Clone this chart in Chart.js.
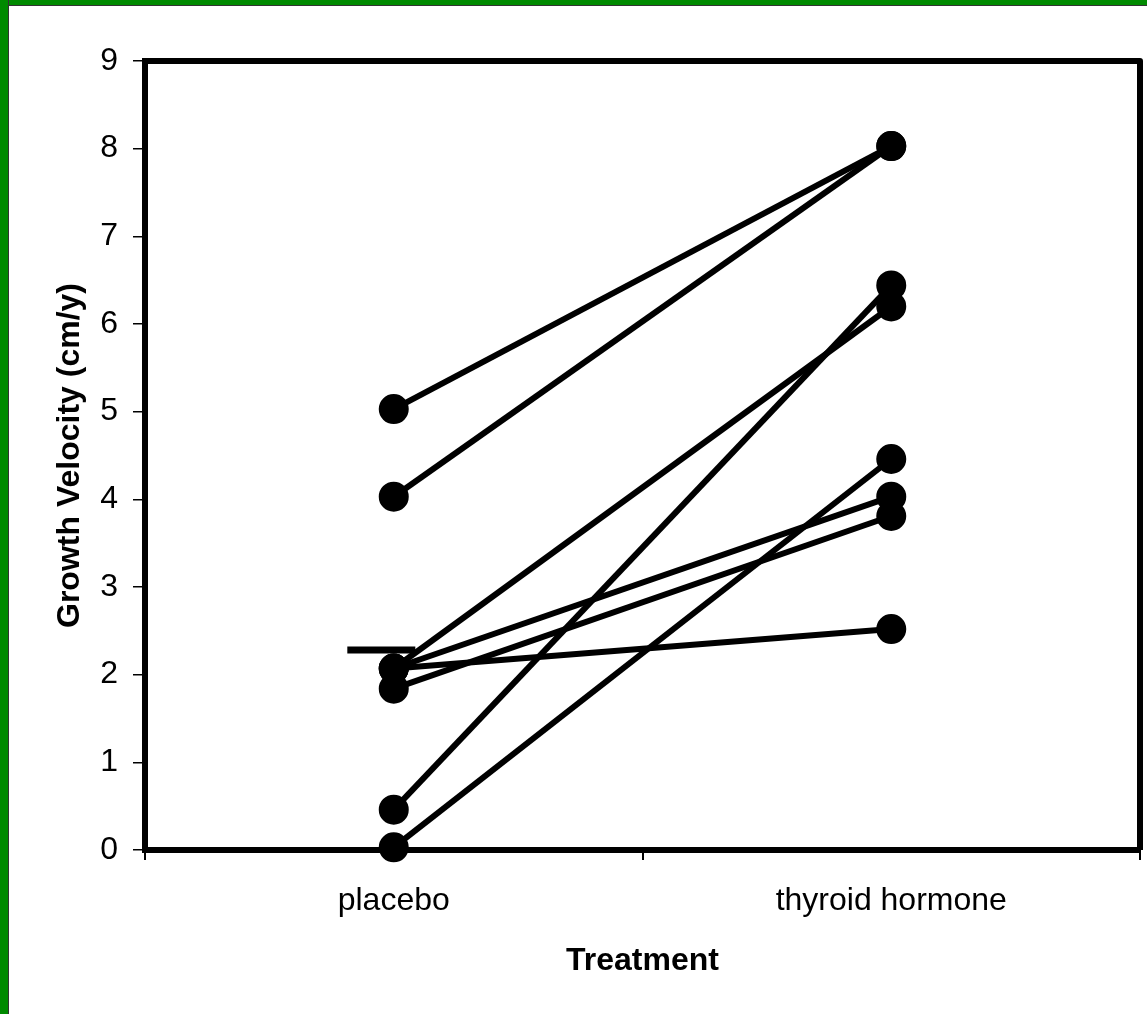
<!DOCTYPE html>
<html><head><meta charset="utf-8">
<script src="https://cdn.jsdelivr.net/npm/chart.js@4/dist/chart.umd.min.js"></script>
<style>
html,body{margin:0;padding:0;background:#fff;}
#wrap{position:absolute;left:0;top:0;width:1147px;height:1014px;overflow:hidden;background:#fff;}
#frameL{position:absolute;left:0;top:0;width:8px;height:1014px;background:#008a00;border-right:1px solid #333;}
#frameT{position:absolute;left:0;top:0;width:1147px;height:5px;background:#008a00;border-bottom:1px solid #333;}
canvas{position:absolute;left:0;top:0;}
</style></head><body>
<div id="wrap"><canvas id="c" width="1147" height="1014"></canvas><div id="frameT"></div><div id="frameL"></div></div>
<script>
const categories = ['placebo', 'thyroid hormone'];
const placeboValues = [5.03, 4.03, 2.07, 2.07, 2.07, 1.84, 0.46, 0.03];
const thyroidValues = [8.03, 8.03, 6.20, 4.03, 2.52, 3.81, 6.44, 4.46];
const placeboMean = [2.28];
const meanPosition = [0.475];
const yMin = 0, yMax = 9, yStep = 1;

const FONT = "'Liberation Sans', Arial, Helvetica, sans-serif";

const subjectSets = placeboValues.map((p, i) => ({
  type: 'line',
  data: [p, thyroidValues[i]],
  borderColor: '#000',
  backgroundColor: '#000',
  borderWidth: 6,
  pointRadius: 14,
  pointBorderWidth: 2,
  pointBackgroundColor: '#000',
  pointBorderColor: '#000',
  pointHoverRadius: 14,
  fill: false,
  tension: 0,
  clip: false,
  xAxisID: 'x',
  yAxisID: 'y'
}));

const meanSet = {
  type: 'scatter',
  data: placeboMean.map((v, i) => ({x: meanPosition[i], y: v})),
  pointStyle: 'line',
  pointRadius: 34,
  pointHoverRadius: 34,
  borderColor: '#000',
  backgroundColor: '#000',
  pointBorderWidth: 7,
  borderWidth: 7,
  showLine: false,
  clip: false,
  xAxisID: 'x2',
  yAxisID: 'y'
};

const framePlugin = {
  id: 'frame',
  beforeDatasetsDraw(chart) {
    const {ctx, chartArea: a} = chart;
    ctx.save();
    ctx.strokeStyle = '#000';
    ctx.lineWidth = 6;
    ctx.lineJoin = 'round';
    ctx.beginPath();
    ctx.moveTo(a.left, a.top);
    ctx.lineTo(a.right, a.top);
    ctx.lineTo(a.right, a.bottom);
    ctx.stroke();
    ctx.restore();
  }
};

new Chart(document.getElementById('c'), {
  type: 'line',
  data: { labels: categories, datasets: [...subjectSets, meanSet] },
  plugins: [framePlugin],
  options: {
    responsive: false,
    animation: false,
    events: [],
    layout: { autoPadding: false, padding: { top: 61, right: 7, left: 0, bottom: 0 } },
    plugins: { legend: { display: false }, tooltip: { enabled: false }, title: { display: false } },
    scales: {
      x: {
        type: 'category',
        position: 'bottom',
        offset: true,
        afterFit(s) { s.height = 164; s.paddingLeft = 0; s.paddingRight = 0; },
        grid: { offset: true, drawOnChartArea: false, drawTicks: true, tickLength: 10, color: '#000', lineWidth: 2 },
        border: { display: true, color: '#000', width: 6 },
        ticks: { color: '#000', padding: 22, font: { family: FONT, size: 32 }, maxRotation: 0 },
        title: { display: true, text: 'Treatment', color: '#000', font: { family: FONT, size: 32, weight: 'bold' }, padding: { top: 0, bottom: 34 } }
      },
      x2: {
        type: 'linear',
        position: 'bottom',
        display: false,
        min: 0,
        max: 2
      },
      y: {
        type: 'linear',
        position: 'left',
        min: yMin,
        max: yMax,
        afterFit(s) { s.width = 145; s.paddingTop = 0; s.paddingBottom = 0; },
        grid: { drawOnChartArea: false, drawTicks: true, tickLength: 12, color: '#000', lineWidth: 1.5 },
        border: { display: true, color: '#000', width: 6 },
        ticks: { stepSize: yStep, color: '#000', padding: 15, font: { family: FONT, size: 32 } },
        title: { display: true, text: 'Growth Velocity (cm/y)', color: '#000', font: { family: FONT, size: 32, weight: 'bold' }, padding: { top: 51, bottom: 0 } }
      }
    }
  }
});
</script>
</body></html>
